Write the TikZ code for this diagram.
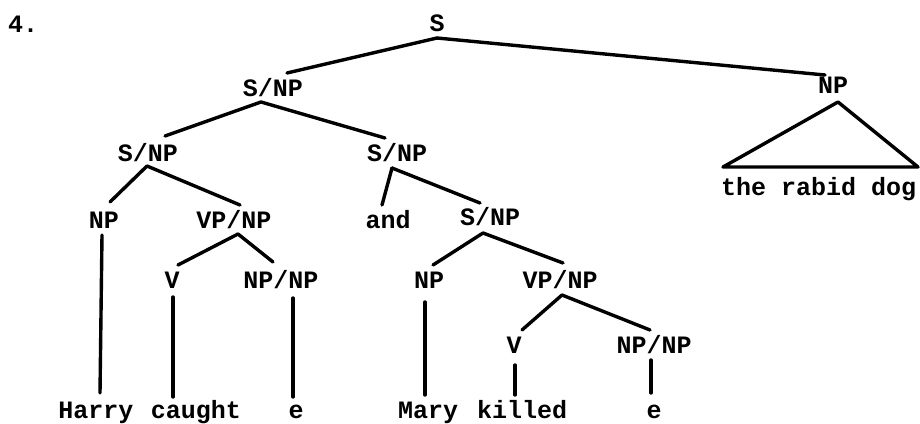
\documentclass[tikz,border=0pt]{standalone}
\usepackage{fontspec}
\setmonofont{Liberation Mono}
\usetikzlibrary{calc}
\tikzset{
  lbl/.style={font=\ttfamily\bfseries\fontsize{25}{25}\selectfont, inner sep=0pt},
  wrd/.style={lbl, anchor=base},
  edge/.style={line width=3.4pt, line cap=round, line join=round}
}
\begin{document}
\begin{tikzpicture}[x=1pt,y=-1pt]
\useasboundingbox (0,0) rectangle (920,423);
\clip (0,0) rectangle (920,423);
% labels
\node[lbl, anchor=west] (num) at (8,24) {4.};
\node[lbl] (S) at (437,23) {S};
\node[lbl] (snp1) at (273,88) {S/NP};
\node[lbl] (npr) at (833,85) {NP};
\node[lbl] (snp2a) at (148,153) {S/NP};
\node[lbl] (snp2b) at (397,153) {S/NP};
\node[lbl] (np3a) at (104,220) {NP};
\node[lbl] (vpnp3a) at (234,220) {VP/NP};
\node[lbl] (and) at (388,220) {and};
\node[lbl] (snp3b) at (490,217) {S/NP};
\node[lbl] (v4a) at (172,280) {V};
\node[lbl] (npnp4a) at (281,280) {NP/NP};
\node[lbl] (np4b) at (429,280) {NP};
\node[lbl] (vpnp4b) at (560,280) {VP/NP};
\node[lbl] (v5b) at (514,345) {V};
\node[lbl] (npnp5b) at (654,345) {NP/NP};
% words
\node[wrd] (harry) at (96,418) {Harry};
\node[wrd] (caught) at (196,418) {caught};
\node[wrd] (e1) at (296,418) {e};
\node[wrd] (mary) at (428,418) {Mary};
\node[wrd] (killed) at (522,418) {killed};
\node[wrd] (e2) at (654,418) {e};
\node[lbl, anchor=base west] (dog) at (721,195) {the rabid dog};
% connectors
\draw[edge] ($(S)+(0,15)$) -- ($(snp1)+(14,-15)$);
\draw[edge] ($(S)+(0,15)$) -- ($(npr)+(-8,-10)$);
\draw[edge] ($(snp1)+(-12,14)$) -- ($(snp2a)+(17,-17)$);
\draw[edge] ($(snp1)+(-12,14)$) -- ($(snp2b)+(-12,-15)$);
\draw[edge] ($(snp2a)+(-1,13)$) -- ($(np3a)+(6,-18)$);
\draw[edge] ($(snp2a)+(-1,13)$) -- ($(vpnp3a)+(6,-15)$);
\draw[edge] ($(snp2b)+(-5,15)$) -- ($(and)+(-6,-15)$);
\draw[edge] ($(snp2b)+(-5,15)$) -- ($(snp3b)+(-10,-14)$);
\draw[edge] ($(vpnp3a)+(4,14)$) -- ($(v4a)+(6,-15)$);
\draw[edge] ($(vpnp3a)+(4,14)$) -- ($(npnp4a)+(-8,-18)$);
\draw[edge] ($(np3a)+(-2,15)$) -- ($(harry.base)+(4,-25)$);
\draw[edge] ($(v4a)+(1,17)$) -- ($(caught.base)+(-23,-21)$);
\draw[edge] ($(npnp4a)+(12,18)$) -- ($(e1.base)+(-3,-21)$);
\draw[edge] ($(snp3b)+(-7,16)$) -- ($(np4b)+(4,-15)$);
\draw[edge] ($(snp3b)+(-7,16)$) -- ($(vpnp4b)+(3,-17)$);
\draw[edge] ($(np4b)+(-4,22)$) -- ($(mary.base)+(-3,-23)$);
\draw[edge] ($(vpnp4b)+(2,15)$) -- ($(v5b)+(8,-15)$);
\draw[edge] ($(vpnp4b)+(2,15)$) -- ($(npnp5b)+(-4,-15)$);
\draw[edge] ($(v5b)+(1,20)$) -- ($(killed.base)+(-7,-23)$);
\draw[edge] ($(npnp5b)+(-3,15)$) -- ($(e2.base)+(-3,-25)$);
\draw[edge] ($(npr)+(5,17)$) -- ($(dog.base west)+(2,-28)$) -- ($(dog.base west)+(197,-28)$) -- cycle;
\end{tikzpicture}
\end{document}
